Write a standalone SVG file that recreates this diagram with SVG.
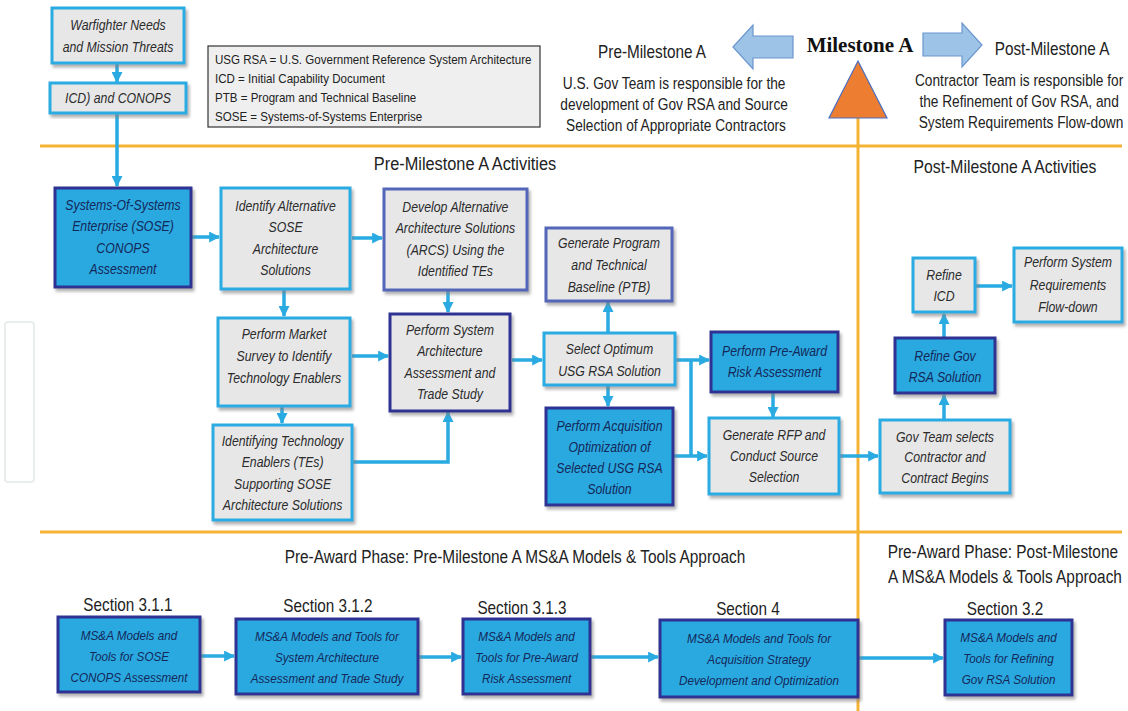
<svg xmlns="http://www.w3.org/2000/svg" width="1128" height="711" viewBox="0 0 1128 711">
<defs>
<filter id="sh" x="-10%" y="-10%" width="125%" height="130%">
<feDropShadow dx="2" dy="3" stdDeviation="1.5" flood-color="#7f7f7f" flood-opacity="0.6"/>
</filter>
<marker id="ah" viewBox="0 0 10 10" refX="9" refY="5" markerWidth="11" markerHeight="11" markerUnits="userSpaceOnUse" orient="auto">
<path d="M0,0 L10,5 L0,10 z" fill="#29abe2"/>
</marker>
</defs>
<style>
.g{fill:#e7e7e8;stroke:#29abe2;stroke-width:3;filter:url(#sh)}
.gn{fill:#e7e7e8;stroke:#2e3192;stroke-width:3;filter:url(#sh)}
.gm{fill:#e7e7e8;stroke:#5366b8;stroke-width:3;filter:url(#sh)}
.c{fill:#2aa9e0;stroke:#2e3192;stroke-width:3;filter:url(#sh)}
.t{font-family:"Liberation Sans",Arial,sans-serif;font-style:italic;font-size:15px;fill:#2b2b2b;text-anchor:middle;transform-box:fill-box;transform-origin:center;transform:scaleX(0.82)}
.tc{fill:#14285a}
.tb{font-size:13px;transform:scaleX(0.9)}
.h{font-family:"Liberation Sans",Arial,sans-serif;fill:#222;text-anchor:middle;transform-box:fill-box;transform-origin:center;transform:scaleX(0.85)}
.lg{font-family:"Liberation Sans",Arial,sans-serif;fill:#222;font-size:13px;transform-box:fill-box;transform-origin:left center;transform:scaleX(0.89)}
.cn{fill:none;stroke:#29abe2;stroke-width:3.5}
.cn2{fill:none;stroke:#29abe2;stroke-width:3.5;marker-end:url(#ah)}
.ol{stroke:#f5b335;stroke-width:3;fill:none}
</style>
<rect width="1128" height="711" fill="#ffffff"/>

<g id="bg-lines">
<rect x="5" y="322" width="29" height="160" rx="3" fill="none" stroke="#e9eded" stroke-width="2"/>
<line class="ol" x1="40" y1="146" x2="1122" y2="146"/>
<line class="ol" x1="40" y1="532" x2="1122" y2="532"/>
<line class="ol" x1="858" y1="118" x2="858" y2="711"/>
</g>

<g id="legend">
<rect x="208" y="46" width="332" height="81" fill="#efefef" stroke="#333" stroke-width="1.2"/>
<text class="lg" x="215" y="64">USG RSA = U.S. Government  Reference System Architecture</text>
<text class="lg" x="215" y="83">ICD = Initial Capability  Document</text>
<text class="lg" x="215" y="102">PTB = Program and Technical  Baseline</text>
<text class="lg" x="215" y="121">SOSE = Systems-of-Systems  Enterprise</text>
</g>

<g id="milestone">
<polygon points="733,47 753,25 753,36 793,36 793,58 753,58 753,69" fill="#9dc3e6" stroke="#6a96cf" stroke-width="1.2"/>
<polygon points="923,33 962,33 962,23 982,45 962,67 962,56 923,56" fill="#9dc3e6" stroke="#6a96cf" stroke-width="1.2"/>
<text x="860" y="52" style="font-family:'Liberation Serif',serif;font-weight:bold;font-size:21px;text-anchor:middle;fill:#111">Milestone A</text>
<polygon points="858,61 887,118 829,118" fill="#ed7d31" stroke="#4a6fc0" stroke-width="1.2"/>
<text class="h" x="652" y="58" style="font-size:18px">Pre-Milestone A</text>
<text class="h" x="1052" y="55" style="font-size:18px">Post-Milestone A</text>
<text class="h" style="font-size:16.5px;transform:scaleX(0.83)">
<tspan x="676" y="89">U.S. Gov Team is responsible  for the</tspan>
<tspan x="676" y="110">development  of Gov RSA and Source</tspan>
<tspan x="676" y="131">Selection of Appropriate Contractors</tspan>
</text>
<text class="h" style="font-size:16.5px;transform:scaleX(0.83)">
<tspan x="1021" y="86">Contractor Team is responsible  for</tspan>
<tspan x="1021" y="107">the Refinement of Gov RSA, and</tspan>
<tspan x="1021" y="128">System Requirements Flow-down</tspan>
</text>
<text class="h" x="465" y="170" style="font-size:19px;transform:scaleX(0.86)">Pre-Milestone A Activities</text>
<text class="h" x="1005" y="173" style="font-size:19px;transform:scaleX(0.83)">Post-Milestone A Activities</text>
<text class="h" x="515" y="563" style="font-size:19px;transform:scaleX(0.81)">Pre-Award Phase: Pre-Milestone A MS&amp;A Models &amp; Tools Approach</text>
<text class="h" style="font-size:19px;transform:scaleX(0.81)">
<tspan x="1005" y="558">Pre-Award Phase: Post-Milestone</tspan>
<tspan x="1005" y="583">A MS&amp;A Models &amp; Tools Approach</tspan>
</text>
</g>

<g id="connectors">
<line class="cn2" x1="117" y1="63" x2="117" y2="82"/>
<line class="cn2" x1="117" y1="113" x2="117" y2="186"/>
<line class="cn2" x1="192" y1="237" x2="219" y2="237"/>
<line class="cn2" x1="352" y1="238" x2="382" y2="238"/>
<line class="cn2" x1="284" y1="290" x2="284" y2="316"/>
<line class="cn2" x1="448" y1="291" x2="448" y2="312"/>
<line class="cn2" x1="352" y1="356" x2="388" y2="356"/>
<line class="cn2" x1="282" y1="406" x2="282" y2="423"/>
<path class="cn2" d="M353,462 H448 V412"/>
<line class="cn2" x1="512" y1="360" x2="542" y2="360"/>
<line class="cn2" x1="608" y1="333" x2="608" y2="302"/>
<line class="cn2" x1="608" y1="386" x2="608" y2="406"/>
<line class="cn2" x1="676" y1="360" x2="709" y2="360"/>
<line class="cn2" x1="674" y1="456" x2="707" y2="456"/>
<line class="cn" x1="691" y1="360" x2="691" y2="456"/>
<line class="cn2" x1="773" y1="393" x2="773" y2="417"/>
<line class="cn2" x1="840" y1="456" x2="878" y2="456"/>
<line class="cn2" x1="944" y1="420" x2="944" y2="395"/>
<line class="cn2" x1="944" y1="338" x2="944" y2="314"/>
<line class="cn2" x1="976" y1="286" x2="1012" y2="286"/>
<line class="cn2" x1="201" y1="656" x2="234" y2="656"/>
<line class="cn2" x1="419" y1="657" x2="461" y2="657"/>
<line class="cn2" x1="591" y1="657" x2="658" y2="657"/>
<line class="cn2" x1="859" y1="658" x2="943" y2="658"/>
</g>

<g id="n-warfighter">
<rect class="g" x="52" y="8" width="132" height="55"/>
<text class="t"><tspan x="118" y="30">Warfighter Needs</tspan><tspan x="118" y="52">and Mission Threats</tspan></text>
</g>
<g id="n-icd">
<rect class="g" x="50" y="83" width="136" height="30"/>
<text class="t" x="118" y="103">ICD) and CONOPS</text>
</g>
<g id="n-sose">
<rect class="c" x="55" y="188" width="136" height="99"/>
<text class="t tc"><tspan x="123" y="210">Systems-Of-Systems</tspan><tspan x="123" y="231.5">Enterprise (SOSE)</tspan><tspan x="123" y="253">CONOPS</tspan><tspan x="123" y="274.5">Assessment</tspan></text>
</g>
<g id="n-identalt">
<rect class="g" x="221" y="188" width="129" height="101"/>
<text class="t"><tspan x="285.5" y="211">Identify Alternative</tspan><tspan x="285.5" y="232.5">SOSE</tspan><tspan x="285.5" y="254">Architecture</tspan><tspan x="285.5" y="275.5">Solutions</tspan></text>
</g>
<g id="n-develop">
<rect class="gm" x="384" y="189" width="143" height="101"/>
<text class="t"><tspan x="455.5" y="212">Develop Alternative</tspan><tspan x="455.5" y="233.5">Architecture Solutions</tspan><tspan x="455.5" y="255">(ARCS) Using the</tspan><tspan x="455.5" y="276.5">Identified TEs</tspan></text>
</g>
<g id="n-market">
<rect class="g" x="218" y="318" width="132" height="88"/>
<text class="t"><tspan x="284" y="339">Perform Market</tspan><tspan x="284" y="361">Survey to Identify</tspan><tspan x="284" y="383">Technology Enablers</tspan></text>
</g>
<g id="n-perfsys">
<rect class="gn" x="390" y="314" width="120" height="97"/>
<text class="t"><tspan x="450" y="335">Perform System</tspan><tspan x="450" y="356.5">Architecture</tspan><tspan x="450" y="378">Assessment and</tspan><tspan x="450" y="399.5">Trade Study</tspan></text>
</g>
<g id="n-tes">
<rect class="g" x="213" y="425" width="139" height="95"/>
<text class="t"><tspan x="282.5" y="446">Identifying Technology</tspan><tspan x="282.5" y="467.5">Enablers (TEs)</tspan><tspan x="282.5" y="489">Supporting SOSE</tspan><tspan x="282.5" y="510.5">Architecture Solutions</tspan></text>
</g>
<g id="n-ptb">
<rect class="gm" x="546" y="228" width="126" height="73"/>
<text class="t"><tspan x="609" y="248">Generate Program</tspan><tspan x="609" y="270">and Technical</tspan><tspan x="609" y="292">Baseline (PTB)</tspan></text>
</g>
<g id="n-select">
<rect class="g" x="544" y="333" width="131" height="52"/>
<text class="t"><tspan x="609.5" y="354">Select Optimum</tspan><tspan x="609.5" y="376">USG RSA Solution</tspan></text>
</g>
<g id="n-acq">
<rect class="c" x="546" y="408" width="127" height="97"/>
<text class="t tc"><tspan x="609.5" y="431">Perform Acquisition</tspan><tspan x="609.5" y="452">Optimization of</tspan><tspan x="609.5" y="473">Selected USG RSA</tspan><tspan x="609.5" y="494">Solution</tspan></text>
</g>
<g id="n-preaward">
<rect class="c" x="711" y="332" width="127" height="60"/>
<text class="t tc"><tspan x="774.5" y="356">Perform Pre-Award</tspan><tspan x="774.5" y="377">Risk Assessment</tspan></text>
</g>
<g id="n-rfp">
<rect class="g" x="709" y="418" width="130" height="76"/>
<text class="t"><tspan x="774" y="440">Generate RFP and</tspan><tspan x="774" y="461">Conduct Source</tspan><tspan x="774" y="482">Selection</tspan></text>
</g>
<g id="n-govteam">
<rect class="g" x="880" y="420" width="130" height="73"/>
<text class="t"><tspan x="945" y="442">Gov Team selects</tspan><tspan x="945" y="462">Contractor  and</tspan><tspan x="945" y="483">Contract Begins</tspan></text>
</g>
<g id="n-refgov">
<rect class="c" x="895" y="338" width="100" height="55"/>
<text class="t tc"><tspan x="945" y="361">Refine Gov</tspan><tspan x="945" y="382">RSA Solution</tspan></text>
</g>
<g id="n-reficd">
<rect class="g" x="913" y="258" width="62" height="54"/>
<text class="t"><tspan x="944" y="280">Refine</tspan><tspan x="944" y="301">ICD</tspan></text>
</g>
<g id="n-perfreq">
<rect class="g" x="1014" y="248" width="108" height="74"/>
<text class="t"><tspan x="1068" y="267">Perform System</tspan><tspan x="1068" y="290">Requirements</tspan><tspan x="1068" y="312">Flow-down</tspan></text>
</g>

<g id="n-s311">
<text class="h" x="128" y="611" style="font-size:18px">Section 3.1.1</text>
<rect class="c" x="58" y="617" width="142" height="75"/>
<text class="t tc tb"><tspan x="129" y="640">MS&amp;A Models and</tspan><tspan x="129" y="661">Tools for SOSE</tspan><tspan x="129" y="682">CONOPS Assessment</tspan></text>
</g>
<g id="n-s312">
<text class="h" x="328" y="612" style="font-size:18px">Section 3.1.2</text>
<rect class="c" x="236" y="619" width="182" height="75"/>
<text class="t tc tb"><tspan x="327" y="641">MS&amp;A Models and Tools for</tspan><tspan x="327" y="662">System Architecture</tspan><tspan x="327" y="683">Assessment and Trade Study</tspan></text>
</g>
<g id="n-s313">
<text class="h" x="522" y="614" style="font-size:18px">Section 3.1.3</text>
<rect class="c" x="463" y="619" width="127" height="75"/>
<text class="t tc tb"><tspan x="526.5" y="641">MS&amp;A Models and</tspan><tspan x="526.5" y="662">Tools for Pre-Award</tspan><tspan x="526.5" y="683">Risk Assessment</tspan></text>
</g>
<g id="n-s4">
<text class="h" x="748" y="615" style="font-size:18px">Section 4</text>
<rect class="c" x="660" y="620" width="198" height="77"/>
<text class="t tc tb"><tspan x="759" y="643">MS&amp;A Models and Tools for</tspan><tspan x="759" y="664">Acquisition Strategy</tspan><tspan x="759" y="685">Development and Optimization</tspan></text>
</g>
<g id="n-s32">
<text class="h" x="1005" y="615" style="font-size:18px">Section 3.2</text>
<rect class="c" x="945" y="620" width="127" height="75"/>
<text class="t tc tb"><tspan x="1008.5" y="642">MS&amp;A Models and</tspan><tspan x="1008.5" y="663">Tools for Refining</tspan><tspan x="1008.5" y="684">Gov RSA Solution</tspan></text>
</g>
</svg>
